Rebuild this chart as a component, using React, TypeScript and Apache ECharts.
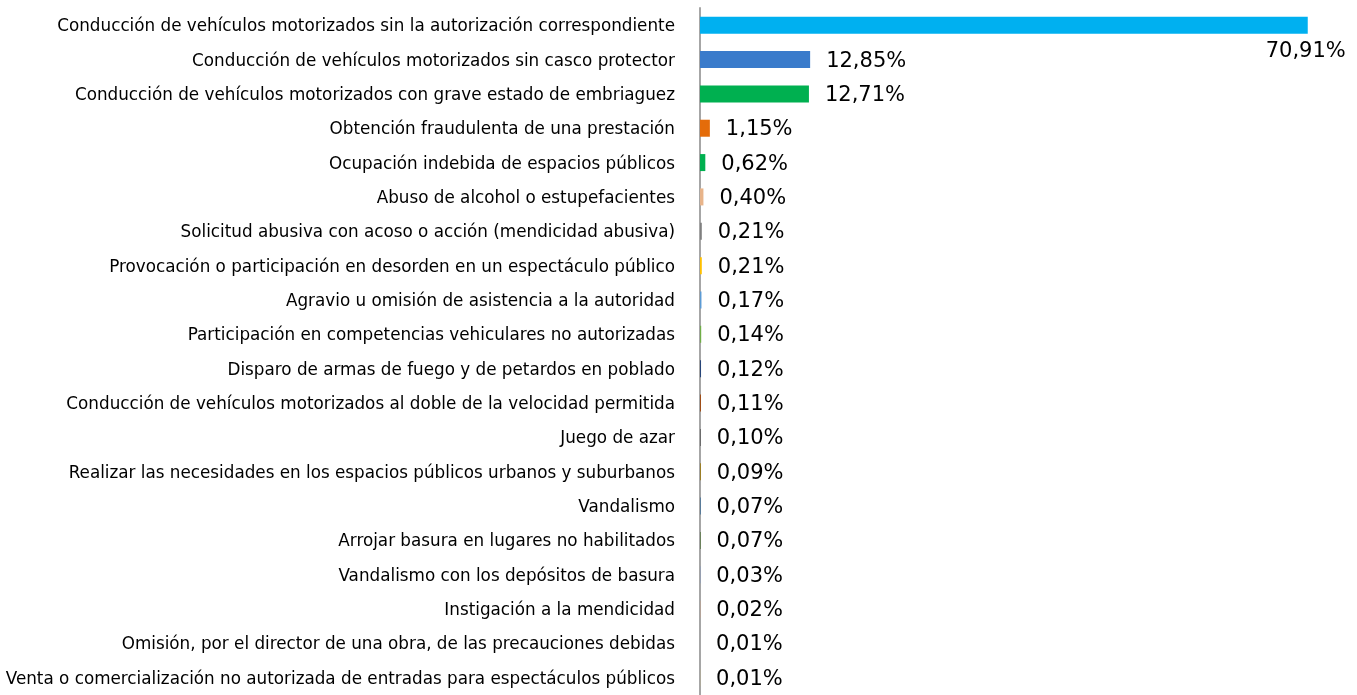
import React, { useEffect, useRef } from "react";
import * as echarts from "echarts";

const categories = [
  "Conducción de vehículos motorizados sin la autorización correspondiente",
  "Conducción de vehículos motorizados sin casco protector",
  "Conducción de vehículos motorizados con grave estado de embriaguez",
  "Obtención fraudulenta de una prestación",
  "Ocupación indebida de espacios públicos",
  "Abuso de alcohol o estupefacientes",
  "Solicitud abusiva con acoso o acción (mendicidad abusiva)",
  "Provocación o participación en desorden en un espectáculo público",
  "Agravio u omisión de asistencia a la autoridad",
  "Participación en competencias vehiculares no autorizadas",
  "Disparo de armas de fuego y de petardos en poblado",
  "Conducción de vehículos motorizados al doble de la velocidad permitida",
  "Juego de azar",
  "Realizar las necesidades en los espacios públicos urbanos y suburbanos",
  "Vandalismo",
  "Arrojar basura en lugares no habilitados",
  "Vandalismo con los depósitos de basura",
  "Instigación a la mendicidad",
  "Omisión, por el director de una obra, de las precauciones debidas",
  "Venta o comercialización no autorizada de entradas para espectáculos públicos",
];

const values = [
  70.91, 12.85, 12.71, 1.15, 0.62, 0.4, 0.21, 0.21, 0.17, 0.14, 0.12, 0.11,
  0.1, 0.09, 0.07, 0.07, 0.03, 0.02, 0.01, 0.01,
];

const colors = [
  "#00B0F0", "#3A7BCB", "#00B050", "#E46C0A", "#00B050", "#E8B48A",
  "#7F7F7F", "#FFC000", "#5B9BD5", "#70AD47", "#264478", "#9E480E",
  "#636363", "#997300", "#255E91", "#43682B", "#698ED0", "#F1975A",
  "#B7B7B7", "#FFCD33",
];

export default function App() {
  const ref = useRef<HTMLDivElement>(null);
  useEffect(() => {
    if (!ref.current) return;
    const chart = echarts.init(ref.current, undefined, { renderer: "svg" });
    const fmt = (v: number) => v.toFixed(2).replace(".", ",") + "%";
    const data = values.map((v, i) => {
      const item: any = { value: v, itemStyle: { color: colors[i] } };
      if (i === 0) {
        item.label = {
          position: "right",
          distance: 0,
          align: "center",
          offset: [-2, 25],
        };
      }
      return item;
    });
    chart.setOption({
      animation: false,
      grid: { left: 700, top: 8, width: 642.8, height: 692 },
      xAxis: {
        type: "value",
        min: 0,
        max: 75,
        show: false,
      },
      yAxis: {
        type: "category",
        inverse: true,
        data: categories,
        axisLine: { show: true, lineStyle: { color: "#A6A6A6", width: 2 } },
        axisTick: { show: false },
        axisLabel: {
          margin: 25,
          fontFamily: "DejaVu Sans",
          fontSize: 16.8,
          color: "#000",
        },
      },
      series: [
        {
          type: "bar",
          data,
          barWidth: 17,
          label: {
            show: true,
            position: "right",
            distance: 16,
            formatter: (p: any) => fmt(p.value),
            fontFamily: "DejaVu Sans",
            fontSize: 21,
            color: "#000",
          },
        },
      ],
    });
    return () => chart.dispose();
  }, []);
  return (
    <div
      ref={ref}
      style={{ position: "fixed", left: 0, top: 0, width: 1357, height: 695 }}
    />
  );
}
